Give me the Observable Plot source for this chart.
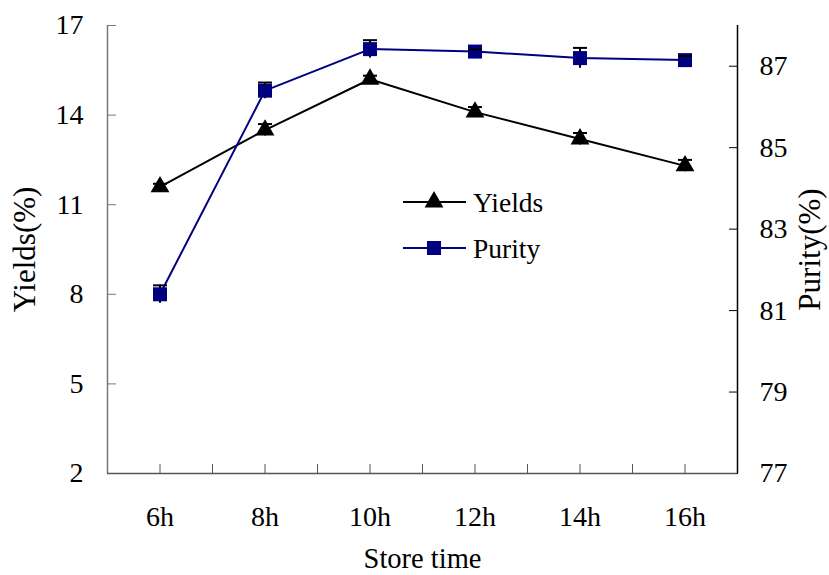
<!DOCTYPE html>
<html>
<head>
<meta charset="utf-8">
<script src="https://cdn.jsdelivr.net/npm/d3@7"></script>
<script src="https://cdn.jsdelivr.net/npm/@observablehq/plot@0.6"></script>
<style>
  html, body { margin: 0; padding: 0; background: #fff; }
  #wrap { position: relative; width: 829px; height: 575px; font-family: "Liberation Serif", "Times New Roman", serif; }
  #legend { position: absolute; left: 400px; top: 180px; }
  #wrap svg g[aria-label="y-axis label"] { font-size: 31px; }
  #wrap svg g[aria-label="x-axis label"] { font-size: 28.5px; }
</style>
</head>
<body>
<div id="wrap"></div>
<script>
// ---- data ----
const times = ["6h", "8h", "10h", "12h", "14h", "16h"];
const yields = [11.6, 13.5, 15.2, 14.1, 13.2, 12.3];
const yieldErr = [0.1, 0.2, 0.12, 0.17, 0.2, 0.2];
const purity = [81.4, 86.4, 87.42, 87.36, 87.2, 87.15];
const purityErr = [0.22, 0.2, 0.22, 0.05, 0.25, 0.1];
const yieldTicks = [2, 5, 8, 11, 14, 17];
const purityTicks = [77, 79, 81, 83, 85, 87];
const yieldDomain = [2, 17];
const purityDomain = [77, 88];

// map purity onto the left (yields) scale
const k = (yieldDomain[1] - yieldDomain[0]) / (purityDomain[1] - purityDomain[0]);
const yOfP = p => yieldDomain[0] + (p - purityDomain[0]) * k;
const pOfY = y => purityDomain[0] + (y - yieldDomain[0]) / k;

const rows = times.map((t, i) => ({
  i, t,
  y: yields[i], y1: yields[i] - yieldErr[i], y2: yields[i] + yieldErr[i],
  p: yOfP(purity[i]), p1: yOfP(purity[i] - purityErr[i]), p2: yOfP(purity[i] + purityErr[i])
}));

const navy = "#000080";
const triR = 7;
const sqR = 7.9;
const cap = { draw(ctx, size) { const w = Math.sqrt(size); ctx.moveTo(-w / 2, 0); ctx.lineTo(w / 2, 0); } };
const capR = Math.sqrt(196 / Math.PI);

const chart = Plot.plot({
  width: 829, height: 575,
  marginLeft: 107, marginRight: 92, marginTop: 25, marginBottom: 102,
  x: { domain: [-0.5, times.length - 0.5] },
  y: { domain: yieldDomain },
  style: { fontFamily: "Liberation Serif, Times New Roman, serif", fontSize: "28px", color: "#000", background: "#fff" },
  marks: [
    Plot.axisX(d3.range(0, times.length - 0.99 + 0.5, 0.5), {
      tickFormat: d => Number.isInteger(d) ? times[d] : "",
      tickSize: -9, tickPadding: 42, stroke: "#555",
      label: "Store time", labelAnchor: "center", labelOffset: 94, labelArrow: "none"
    }),
    Plot.axisY(yieldTicks, {
      anchor: "left", tickSize: -9, tickPadding: 33, stroke: "#777",
      label: "Yields(%)", labelAnchor: "center", labelOffset: 95, labelArrow: "none"
    }),
    Plot.axisY(purityTicks.map(yOfP), {
      anchor: "right", tickSize: -9, tickPadding: 31, stroke: "#000",
      tickFormat: d => Math.round(pOfY(d)),
      label: "Purity(%)", labelAnchor: "center", labelOffset: 82, labelArrow: "none"
    }),
    Plot.ruleX([-0.5], { stroke: "#777", strokeWidth: 1.5 }),
    Plot.ruleX([times.length - 0.5], { stroke: "#000", strokeWidth: 1.5 }),
    Plot.ruleY([yieldDomain[0]], { stroke: "#555", strokeWidth: 1.5 }),
    // error bars (stems)
    Plot.ruleX(rows, { x: "i", y1: "y1", y2: "y2", stroke: "#000", strokeWidth: 2 }),
    Plot.ruleX(rows, { x: "i", y1: "p1", y2: "p2", stroke: "#000", strokeWidth: 2 }),
    // lines
    Plot.line(rows, { x: "i", y: "y", stroke: "#000", strokeWidth: 2 }),
    Plot.line(rows, { x: "i", y: "p", stroke: navy, strokeWidth: 2 }),
    // markers
    Plot.dot(rows, { x: "i", y: "y", symbol: "triangle", r: triR, fill: "#000", stroke: "none" }),
    Plot.dot(rows, { x: "i", y: "p", symbol: "square", r: sqR, fill: navy, stroke: "none" }),
    // caps
    Plot.dot(rows, { x: "i", y: "y2", symbol: cap, r: capR, fill: "none", stroke: "#000", strokeWidth: 2 }),
    Plot.dot(rows, { x: "i", y: "p2", symbol: cap, r: capR, fill: "none", stroke: "#000", strokeWidth: 2 })
  ]
});
document.getElementById("wrap").appendChild(chart);

// legend
const leg = d3.select("#wrap").append("svg").attr("id", "legend")
  .attr("width", 170).attr("height", 100)
  .style("font-family", "Liberation Serif, Times New Roman, serif").style("font-size", "27.5px");
const items = [
  { label: "Yields", color: "#000", sym: d3.symbolTriangle, size: Math.PI * triR * triR, y: 22 },
  { label: "Purity", color: navy, sym: d3.symbolSquare, size: Math.PI * sqR * sqR, y: 68 }
];
items.forEach(it => {
  leg.append("line").attr("x1", 3).attr("x2", 66).attr("y1", it.y).attr("y2", it.y)
    .attr("stroke", it.color).attr("stroke-width", 2);
  leg.append("path").attr("d", d3.symbol(it.sym, it.size)()).attr("transform", `translate(34,${it.y})`)
    .attr("fill", it.color);
  leg.append("text").attr("x", 73).attr("y", it.y + 9.5).attr("fill", "#000").text(it.label);
});
</script>
</body>
</html>
